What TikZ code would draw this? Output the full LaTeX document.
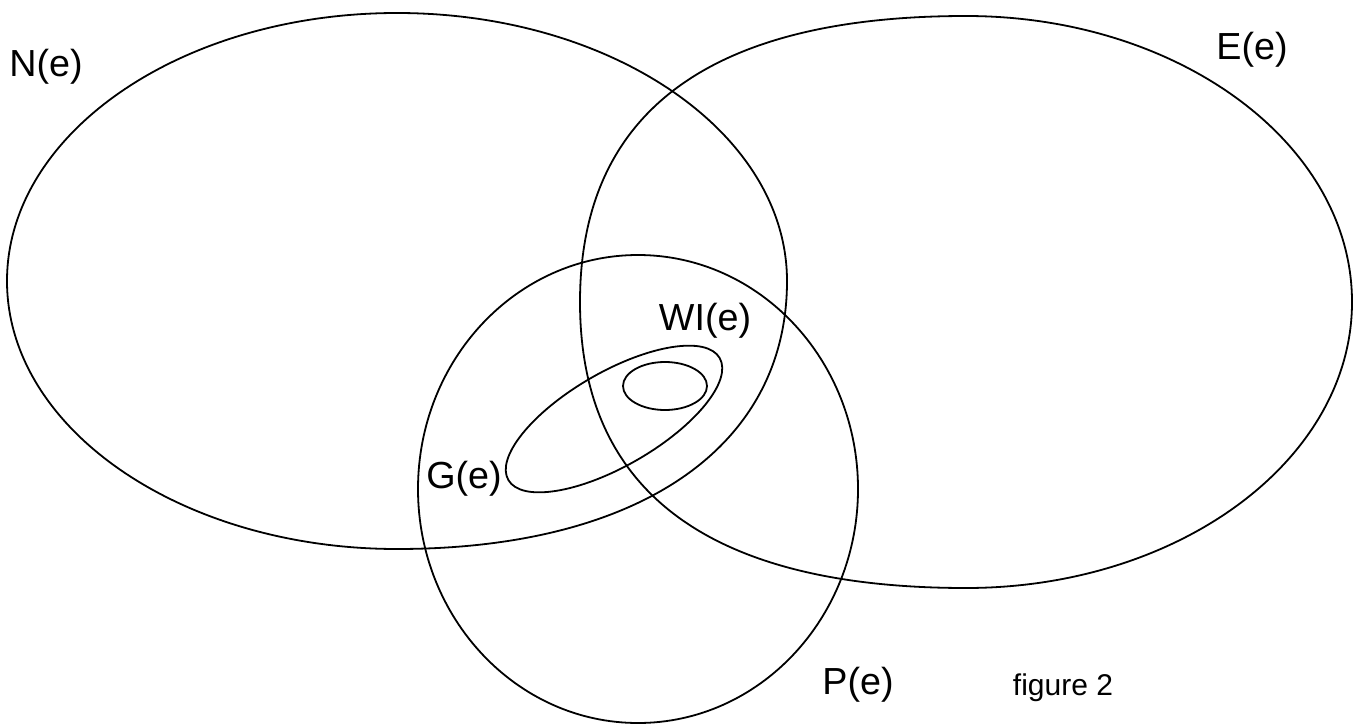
\documentclass[tikz,border=0pt]{standalone}
\usepackage{fontspec}
\setmainfont{Liberation Sans}
\tikzset{
  setline/.style={draw=black, line width=1.8bp},
  setlabel/.style={font=\fontsize{37.7bp}{44bp}\selectfont, inner sep=0pt},
  caption/.style={font=\fontsize{30bp}{36bp}\selectfont, inner sep=0pt}
}
% closed loop of four quarter curves: centre, radii, fullness per quarter (ur, ul, ll, lr)
\newcommand{\setloop}[8]{
  \begin{scope}[shift={(#1,#2)}]
    \draw[setline] (#3,0) .. controls (#3,#5*#4) and (#5*#3,#4) .. (0,#4)
      .. controls (-#6*#3,#4) and (-#3,#6*#4) .. (-#3,0)
      .. controls (-#3,-#7*#4) and (-#7*#3,-#4) .. (0,-#4)
      .. controls (#8*#3,-#4) and (#3,-#8*#4) .. cycle;
  \end{scope}
}
\begin{document}
\begin{tikzpicture}[x=1bp,y=1bp]
\useasboundingbox (0,0) rectangle (1359,-727);
% the sets
\setloop{397}{-281}{390}{268}{0.552}{0.552}{0.552}{0.62}
\setloop{966}{-302}{386}{286}{0.552}{0.664}{0.664}{0.552}
\setloop{638}{-489}{220}{234}{0.552}{0.552}{0.552}{0.552}
\draw[setline] (614,-419) ellipse [x radius=122bp, y radius=47bp, rotate=30];
\draw[setline] (665,-386) ellipse [x radius=42bp, y radius=24bp];
% labels
\node[setlabel] (lblN) at (46,-67) {N(e)};
\node[setlabel] (lblE) at (1252,-50) {E(e)};
\node[setlabel] (lblWI) at (705,-321) {WI(e)};
\node[setlabel] (lblG) at (464,-479) {G(e)};
\node[setlabel] (lblP) at (858,-685) {P(e)};
\node[caption] (fig) at (1063,-688) {figure 2};
\end{tikzpicture}
\end{document}
